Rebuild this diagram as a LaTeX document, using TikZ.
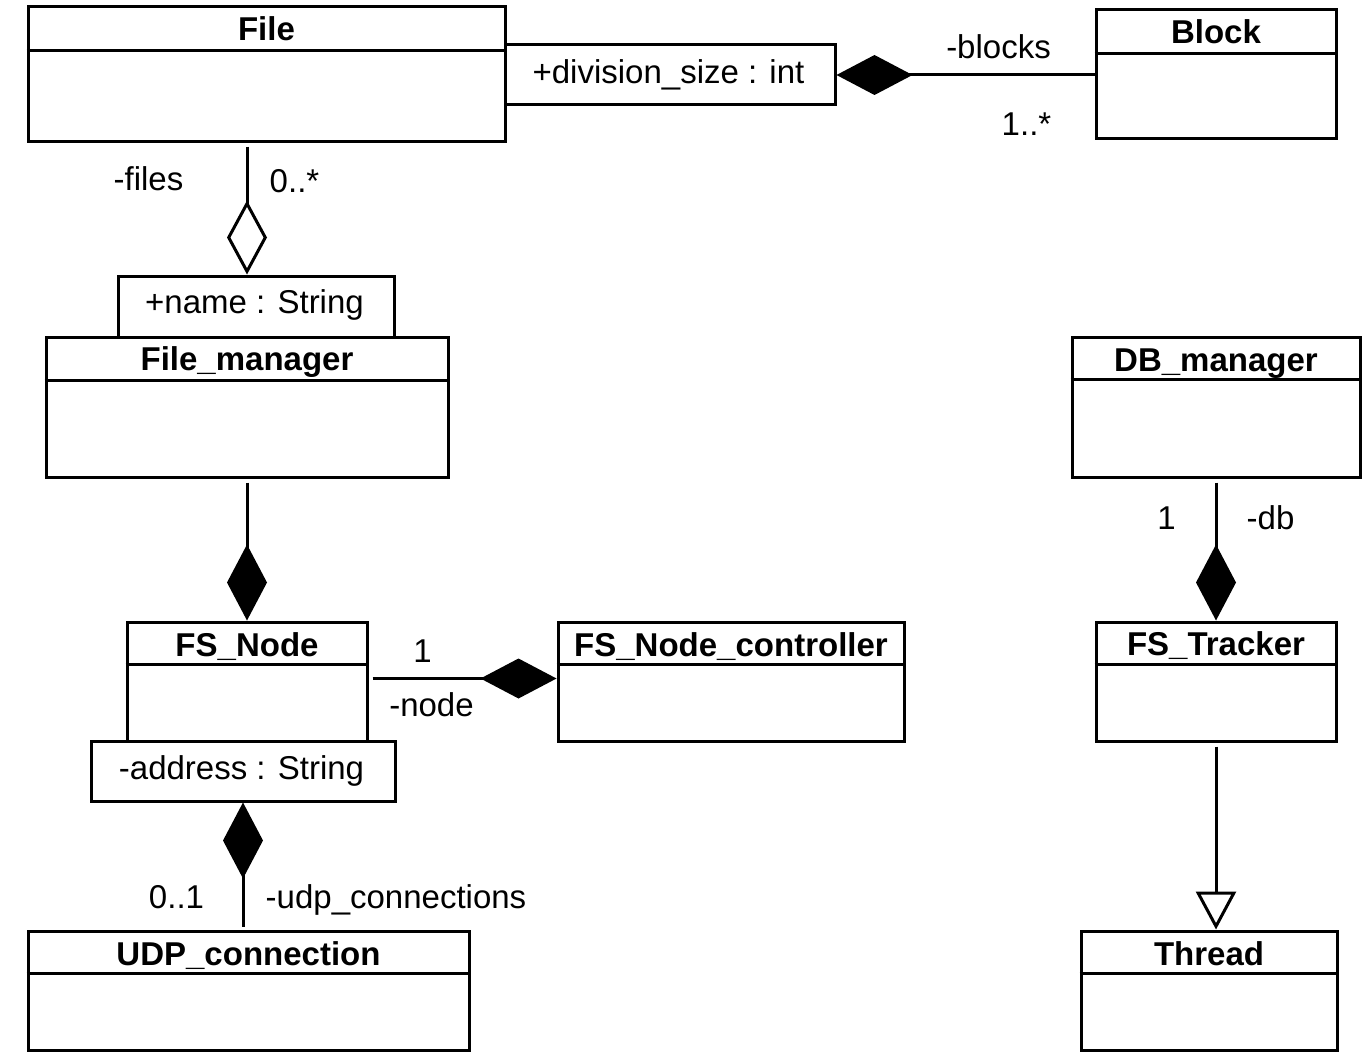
\documentclass[tikz,border=0pt]{standalone}
\usepackage{fontspec}
\setmainfont{Liberation Sans}
\usetikzlibrary{arrows.meta}
\newcommand\umlclass[8]{%
  \node[clsbox, minimum width=#4pt, minimum height=#5pt] (#1) at (#2,#3) {};
  \draw[conn] ([yshift=-#6pt]#1.north west) -- ([yshift=-#6pt]#1.north east);
  \node[title] (#1-t) at ([yshift=-#7pt]#1.north) {#8};
}
\begin{document}
\begin{tikzpicture}[x=1pt,y=-1pt,
  every node/.style={font=\fontsize{33}{40}\selectfont},
  clsbox/.style={draw, line width=3pt, inner sep=0pt, anchor=north west},
  title/.style={font=\fontsize{33}{40}\selectfont\bfseries, anchor=base, inner sep=0pt},
  lbl/.style={anchor=base, inner sep=0pt},
  conn/.style={line width=3pt},
  comp/.style={conn, -{Diamond[fill=black, length=76pt, width=40pt]}},
  aggr/.style={conn, -{Diamond[open, fill=white, length=74pt, width=40pt]}},
  gen/.style={conn, -{Triangle[open, fill=white, length=38pt, width=40pt]}}]
\useasboundingbox (0,0) rectangle (1372,1062);
\fill[white] (0,0) rectangle (1372,1062);
\begin{scope}[shift={(-1.5,-1.5)}]
% classes
\umlclass{file}{28}{7}{477}{134}{45}{35}{File}
\umlclass{block}{1096}{10}{240}{128}{45}{35}{Block}
\umlclass{fm}{46}{337}{402}{140}{45}{35}{File\_manager}
\umlclass{db}{1072}{337}{288}{140}{44}{36}{DB\_manager}
\umlclass{fsnode}{127}{622}{240}{119}{44}{36}{FS\_Node}
\umlclass{ctrl}{558}{622}{346}{119}{44}{36}{FS\_Node\_controller}
\umlclass{tracker}{1096}{622}{240}{119}{44}{35}{FS\_Tracker}
\umlclass{udp}{28}{931}{441}{119}{44}{36}{UDP\_connection}
\umlclass{thread}{1081}{931}{256}{119}{44}{36}{Thread}

% qualifier boxes
\node[clsbox, minimum width=330pt, minimum height=60pt] (divbox) at (505,45) {};
\node[lbl] (divT) at (670,85) {+division\_size : int};
\node[clsbox, minimum width=276pt, minimum height=61pt] (namebox) at (118,276) {};
\node[lbl] (nameT) at (256,315) {+name : String};
\node[clsbox, minimum width=304pt, minimum height=60pt] (addr) at (91,741) {};
\node[lbl] (addrT) at (243,781) {-address : String};

% connectors
\draw[aggr] ([yshift=-4pt]file.south -| fm.north) -- (namebox.north -| fm.north);
\draw[comp] (block.west |- divbox.east) -- (divbox.east);
\draw[comp] ([yshift=-4pt]fm.south) -- (fsnode.north);
\draw[comp] ([xshift=4pt,yshift=3pt]fsnode.east |- ctrl.west) -- ([yshift=3pt]ctrl.west);
\draw[comp] ([yshift=3pt]udp.north -| addr.south) -- (addr.south);
\draw[comp] ([yshift=-4pt]db.south) -- (tracker.north);
\draw[gen] ([yshift=-4pt]tracker.south) -- (thread.north -| tracker.south);

% labels
\node[lbl] (blocksL) at (1000,60) {-blocks};
\node[lbl] (blocksM) at (1028,137) {1..*};
\node[lbl] (filesL) at (150,192) {-files};
\node[lbl] (filesM) at (296,194) {0..*};
\node[lbl] (nodeM) at (424,664) {1};
\node[lbl] (nodeL) at (433,718) {-node};
\node[lbl] (udpM) at (178,910) {0..1};
\node[lbl] (udpL) at (397.5,910) {-udp\_connections};
\node[lbl] (dbM) at (1168,531) {1};
\node[lbl] (dbL) at (1272,531) {-db};
\end{scope}
\end{tikzpicture}
\end{document}
